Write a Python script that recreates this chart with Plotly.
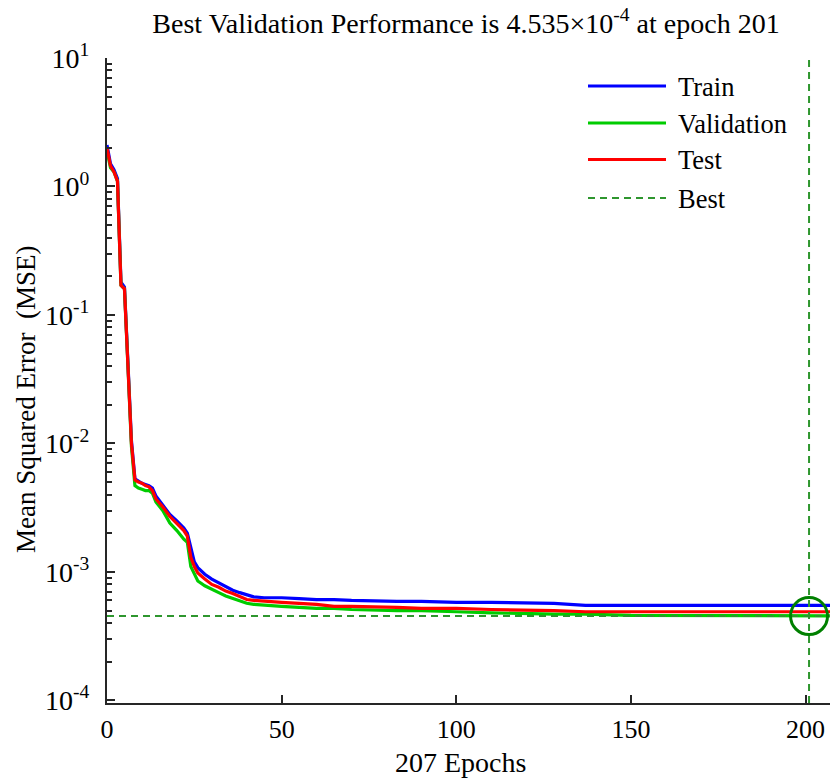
import plotly.graph_objects as go

# ---------------- data ----------------
epochs = [0, 1, 2, 3, 4, 5, 6, 7, 8, 9, 10, 11, 12, 13, 14, 16, 18, 20, 22, 23, 24, 25, 26, 28,
          30, 32, 34, 36, 38, 40, 42, 45, 50, 55, 60, 65, 70, 83, 90, 100, 110, 128, 137, 150,
          170, 190, 201, 207]

train_mse = [2.1, 1.5, 1.35, 1.15, 0.18, 0.165, 0.042, 0.0105, 0.0053, 0.0051, 0.0049, 0.0048,
             0.0047, 0.0045, 0.0039, 0.0033, 0.0028, 0.0025, 0.0022, 0.0020, 0.0015, 0.0012,
             0.00108, 0.00096, 0.00088, 0.00082, 0.00077, 0.00072, 0.00069, 0.00066, 0.00064,
             0.00063, 0.00063, 0.00062, 0.00061, 0.00061, 0.0006, 0.00059, 0.00059, 0.00058,
             0.00058, 0.00057, 0.00055, 0.00055, 0.00055, 0.00055, 0.00055, 0.00055]

validation_mse = [1.9, 1.4, 1.3, 1.1, 0.17, 0.16, 0.04, 0.0095, 0.0047, 0.0045, 0.0044, 0.0043,
                  0.0043, 0.0041, 0.0035, 0.003, 0.0024, 0.0021, 0.0018, 0.0017, 0.0011, 0.00095,
                  0.00085, 0.00078, 0.00073, 0.00069, 0.00065, 0.00062, 0.00059, 0.00057, 0.00056,
                  0.00055, 0.00054, 0.00053, 0.00052, 0.00052, 0.00051, 0.0005, 0.0005, 0.00049,
                  0.00048, 0.00047, 0.00047, 0.00046, 0.000458, 0.000455, 0.0004535, 0.000455]

test_mse = [2.0, 1.45, 1.3, 1.1, 0.17, 0.16, 0.04, 0.01, 0.0052, 0.005, 0.0049, 0.0047, 0.0046,
            0.0043, 0.0037, 0.0032, 0.0027, 0.0024, 0.0021, 0.0019, 0.0013, 0.0011, 0.00098,
            0.00088, 0.0008, 0.00076, 0.00071, 0.00068, 0.00064, 0.00061, 0.0006, 0.00059,
            0.00058, 0.00057, 0.00056, 0.00054, 0.00054, 0.00053, 0.00052, 0.00052, 0.00051,
            0.0005, 0.00049, 0.00049, 0.00049, 0.00049, 0.00049, 0.00049]

best_epoch = 201
best_perf = 4.535e-4
total_epochs = 207

x_tick_vals = [0, 50, 100, 150, 200]
y_exponents = [-4, -3, -2, -1, 0, 1]
y_tick_vals = [10.0 ** e for e in y_exponents]
y_tick_text = ["10<sup>%d</sup>" % e for e in y_exponents]
y_minor_vals = [m * 10.0 ** e for e in y_exponents[:-1] for m in range(2, 10)]

series_names = ["Train", "Validation", "Test", "Best"]
series_colors = ["#0000ff", "#00cc00", "#ff0000", "#2e962e"]

# ---------------- layout helpers ----------------
W, H = 830, 780
ML, MR, MT, MB = 107, 0, 58, 77
PW, PH = W - ML - MR, H - MT - MB
FONT = "Liberation Serif"


def px_x(px):
    return (px - ML) / PW


def px_y(py):
    return (H - MB - py) / PH


fig = go.Figure()

for name, vals, col in zip(series_names[:3], [train_mse, validation_mse, test_mse], series_colors[:3]):
    fig.add_trace(go.Scatter(x=epochs, y=vals, mode="lines", name=name,
                             line=dict(color=col, width=3.2), showlegend=False))

# best lines
fig.add_trace(go.Scatter(x=[0, total_epochs], y=[best_perf, best_perf], mode="lines",
                         line=dict(color=series_colors[3], width=2, dash="7px,5px"),
                         showlegend=False))
fig.add_trace(go.Scatter(x=[best_epoch, best_epoch], y=[10 ** -4.02, 10], mode="lines",
                         line=dict(color=series_colors[3], width=2, dash="7px,5px"),
                         showlegend=False))
fig.add_trace(go.Scatter(x=[best_epoch], y=[best_perf], mode="markers",
                         marker=dict(symbol="circle-open", size=37, color="#008000",
                                     line=dict(width=3, color="#008000")),
                         showlegend=False, cliponaxis=False))

# custom legend
leg_rows = [86, 123, 159.5, 198]
shapes = []
annotations = []
for name, col, row in zip(series_names, series_colors, leg_rows):
    shapes.append(dict(type="line", xref="paper", yref="paper",
                       x0=px_x(588), x1=px_x(666), y0=px_y(row), y1=px_y(row),
                       line=dict(color=col, width=3.2 if name != "Best" else 2,
                                 dash="solid" if name != "Best" else "7px,5px")))
    annotations.append(dict(xref="paper", yref="paper", x=px_x(676), y=px_y(row + 1),
                            text=name, showarrow=False, xanchor="left", yanchor="middle",
                            font=dict(family=FONT, size=26.5, color="black")))

annotations.append(dict(xref="paper", yref="paper", x=px_x(460), y=px_y(762),
                        text="%d Epochs" % total_epochs, showarrow=False,
                        xanchor="center", yanchor="middle",
                        font=dict(family=FONT, size=28, color="black")))
annotations.append(dict(xref="paper", yref="paper", x=px_x(26), y=px_y(400),
                        text="Mean Squared Error  (MSE)", showarrow=False, textangle=-90,
                        xanchor="center", yanchor="middle",
                        font=dict(family=FONT, size=27, color="black")))

title_text = "Best Validation Performance is %.3f×10<sup>-4</sup> at epoch %d" % (best_perf * 1e4, best_epoch)

fig.update_layout(
    width=W, height=H,
    margin=dict(l=ML, r=MR, t=MT, b=MB, pad=0),
    paper_bgcolor="white", plot_bgcolor="white",
    font=dict(family=FONT, size=26, color="black"),
    title=dict(text=title_text, x=px_x(466), xref="paper", xanchor="center",
               y=1 - 23 / H, yref="container", yanchor="middle",
               font=dict(family=FONT, size=28, color="black")),
    shapes=shapes, annotations=annotations,
    showlegend=False,
)

fig.update_xaxes(range=[0, total_epochs], tickvals=x_tick_vals, ticks="inside", ticklen=8,
                 tickwidth=2, tickcolor="#262626", showline=True, linecolor="#262626",
                 linewidth=2, showgrid=False, zeroline=False, ticklabelstandoff=2,
                 tickfont=dict(family=FONT, size=26, color="black"))
fig.update_yaxes(type="log", range=[-4.02, 1], tickvals=y_tick_vals, ticktext=y_tick_text,
                 ticks="inside", ticklen=8, tickwidth=2, tickcolor="#262626",
                 showline=True, linecolor="#262626", linewidth=2, showgrid=False,
                 zeroline=False, ticklabelstandoff=10,
                 minor=dict(tickmode="array", tickvals=y_minor_vals, ticks="inside",
                            ticklen=5, tickwidth=2, tickcolor="#262626", showgrid=False),
                 tickfont=dict(family=FONT, size=28, color="black"))

fig.write_html("out.html")
